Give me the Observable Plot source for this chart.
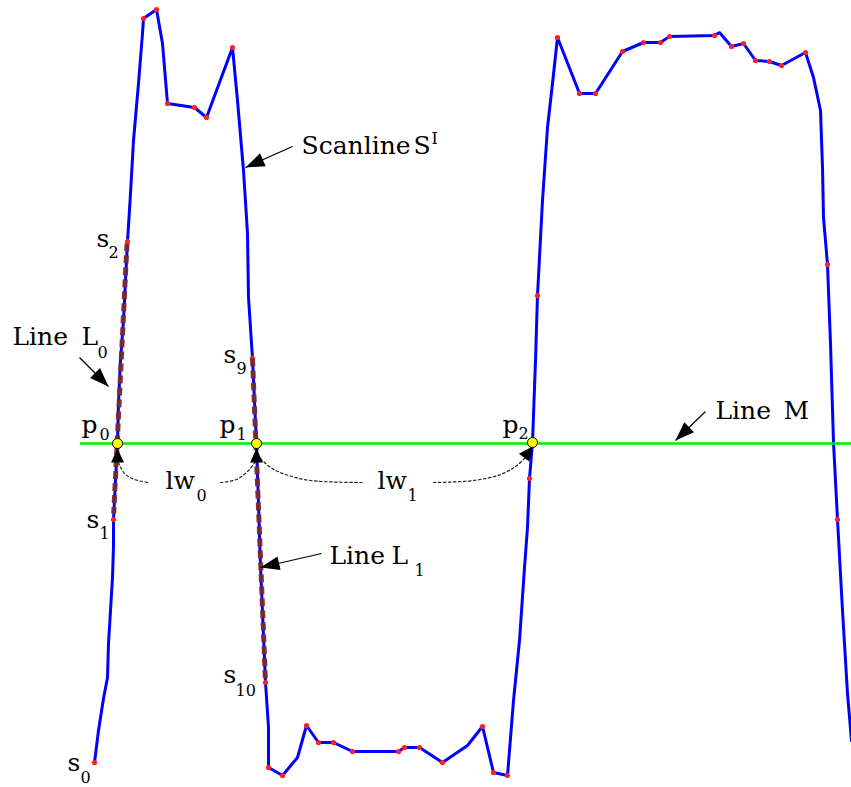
<!DOCTYPE html>
<html><head><meta charset="utf-8">
<script src="https://cdn.jsdelivr.net/npm/d3@7"></script>
<script src="https://cdn.jsdelivr.net/npm/@observablehq/plot@0.6"></script>
<style>body{margin:0;background:#fff}#chart svg{display:block}</style>
</head><body><div id="chart"></div>
<script>
// Scanline S^I (image coordinates: x along scan, y downward)
const scanX = [94,98,103,107,108,110,112,113,113,115,117,118,120,123,125,127,130,133,138,142,143,156,162,167,194,206,232,237,243,247,248,252,256,260,265,268,268,282,297,306,318,333,352,398,404,419,442,467,482,493,507,513,519,524,527,529,532,535,537,542,547,552,557,579,595,622,643,660,669,714,719,731,743,755,769,781,805,813,820,822,823,827,830,833,837,842,847,851];
const scanY = [762,730,698,677,643,610,577,545,519,480,443,403,360,320,280,241,193,140,83,33,18,9,43,103,107,117,47,100,170,233,297,358,443,565,682,727,767,775,757,725,742,742,751,751,747,747,762,745,726,772,775,700,640,567,527,478,442,360,295,200,127,83,37,93,93,51,42,42,36,35,32,46,43,60,61,65,52,77,110,167,217,264,343,442,519,610,693,740];
// Red sample points
const sampleX = [94,113,127,143,156,167,194,206,232,252,265,268,282,306,318,333,352,398,404,419,442,482,493,507,529,537,557,579,595,622,643,660,669,714,731,743,755,769,781,805,827,837];
const sampleY = [762,519,241,18,9,103,107,117,47,358,682,767,775,725,742,742,751,751,747,747,762,726,772,775,478,295,37,93,93,51,42,42,36,35,46,43,60,61,65,52,264,519];
// Fitted lines L0, L1
const fitNames = ["L0","L0","L1","L1"];
const fitX = [126.5,113.2,252,265];
const fitY = [243,513,358,682];
// Line M
const mY = 443, mX0 = 80, mX1 = 851;
// Crossings p0, p1, p2
const crossX = [117,256,532];
const crossY = [443,443,442];
// Dotted width arcs
const arcNames = ["lw0a","lw0a","lw0a","lw0a","lw0b","lw0b","lw0b","lw0b","lw1a","lw1a","lw1a","lw1a","lw1a","lw1b","lw1b","lw1b","lw1b","lw1b"];
const arcX = [118,124,134,148, 220,236,248,255, 260,270,285,310,362, 433,473,500,515,524];
const arcY = [462,473,479,482, 482,479,470,461, 458,467,474,480,482, 482,480,474,466,458];
// Annotation arrows: tail -> tip
const arrowX1 = [292,79,321,705];
const arrowY1 = [146,357,553,411];
const arrowX2 = [245,108,260,675];
const arrowY2 = [167,386,567,440];
// Small arrow heads at crossings (tip, direction source)
const headX = [117,256,532];
const headY = [448,448,446];
const headFromX = [117,256,523];
const headFromY = [462,462,458];
// Labels
const bigText = ["Scanline","S","Line","L","Line","L","Line","M","lw","lw","p","p","p","s","s","s","s","s"];
const bigX = [301,413,12,81,329,391,715,783,165,377,81,219,502,96,223,86,67,223];
const bigY = [153,153,344,344,563,563,418,418,488,488,432,432,432,246,362,527,770,682];
const smallText = ["I","0","1","0","1","0","1","2","2","9","1","0","10"];
const smallX = [431,97,414,196,407,99,236,518,108,236,99,80,235];
const smallY = [143,357,575,500,500,439,439,438,257,373,538,782,695];

const zip = (xs, ys, extra = {}) => xs.map((x, i) => ({x, y: ys[i], ...Object.fromEntries(Object.entries(extra).map(([k, v]) => [k, v[i]]))}));
const scan = zip(scanX, scanY);
const samples = zip(sampleX, sampleY);
const fits = zip(fitX, fitY, {n: fitNames});
const arcs = zip(arcX, arcY, {n: arcNames});
const cross = zip(crossX, crossY);
const angle = (x1, y1, x2, y2) => Math.atan2(x2 - x1, -(y2 - y1)) * 180 / Math.PI;
const arrows = arrowX1.map((x1, i) => ({x1, y1: arrowY1[i], x2: arrowX2[i], y2: arrowY2[i], a: angle(x1, arrowY1[i], arrowX2[i], arrowY2[i])}));
const heads = headX.map((x, i) => ({x, y: headY[i], a: angle(headFromX[i], headFromY[i], x, headY[i])}));
const big = bigText.map((t, i) => ({t, x: bigX[i], y: bigY[i]}));
const small = smallText.map((t, i) => ({t, x: smallX[i], y: smallY[i]}));

const headBig = {draw(c) { c.moveTo(0, 0); c.lineTo(-7, 19); c.lineTo(7, 19); c.closePath(); }};
const headSmall = {draw(c) { c.moveTo(0, 0); c.lineTo(-6.5, 14); c.lineTo(6.5, 14); c.closePath(); }};
const font = "DejaVu Serif";

const chart = Plot.plot({
  width: 851, height: 787,
  margin: 0,
  x: {domain: [0, 851], axis: null},
  y: {domain: [0, 787], reverse: true, axis: null},
  style: {background: "#fff"},
  marks: [
    Plot.line(scan, {x: "x", y: "y", stroke: "#0000ff", strokeWidth: 3, strokeLinejoin: "miter"}),
    Plot.dot(samples, {x: "x", y: "y", r: 2.6, fill: "#ff2020", stroke: "none"}),
    Plot.line(fits, {x: "x", y: "y", z: "n", stroke: "#7a2832", strokeOpacity: 0.95, strokeWidth: 5, strokeDasharray: "8,4", strokeLinecap: "butt"}),
    Plot.ruleY([mY], {x1: mX0, x2: mX1, stroke: "#00ee00", strokeWidth: 2.5}),
    Plot.line(arcs, {x: "x", y: "y", z: "n", curve: "catmull-rom", stroke: "#222", strokeWidth: 1.2, strokeDasharray: "2.5,2.5"}),
    Plot.link(arrows, {x1: "x1", y1: "y1", x2: "x2", y2: "y2", stroke: "#000", strokeWidth: 1.2}),
    Plot.dot(arrows, {x: "x2", y: "y2", symbol: headBig, rotate: "a", fill: "#000", stroke: "none"}),
    Plot.dot(cross, {x: "x", y: "y", r: 5, fill: "#ffff00", stroke: "#000", strokeWidth: 1}),
    Plot.dot(heads, {x: "x", y: "y", symbol: headSmall, rotate: "a", fill: "#000", stroke: "none"}),
    Plot.text(big, {x: "x", y: "y", text: "t", textAnchor: "start", lineAnchor: "bottom", fontSize: 25, fontFamily: font, fill: "#000"}),
    Plot.text(small, {x: "x", y: "y", text: "t", textAnchor: "start", lineAnchor: "bottom", fontSize: 16, fontFamily: font, fill: "#000"})
  ]
});
document.getElementById("chart").append(chart);
</script>
</body></html>
